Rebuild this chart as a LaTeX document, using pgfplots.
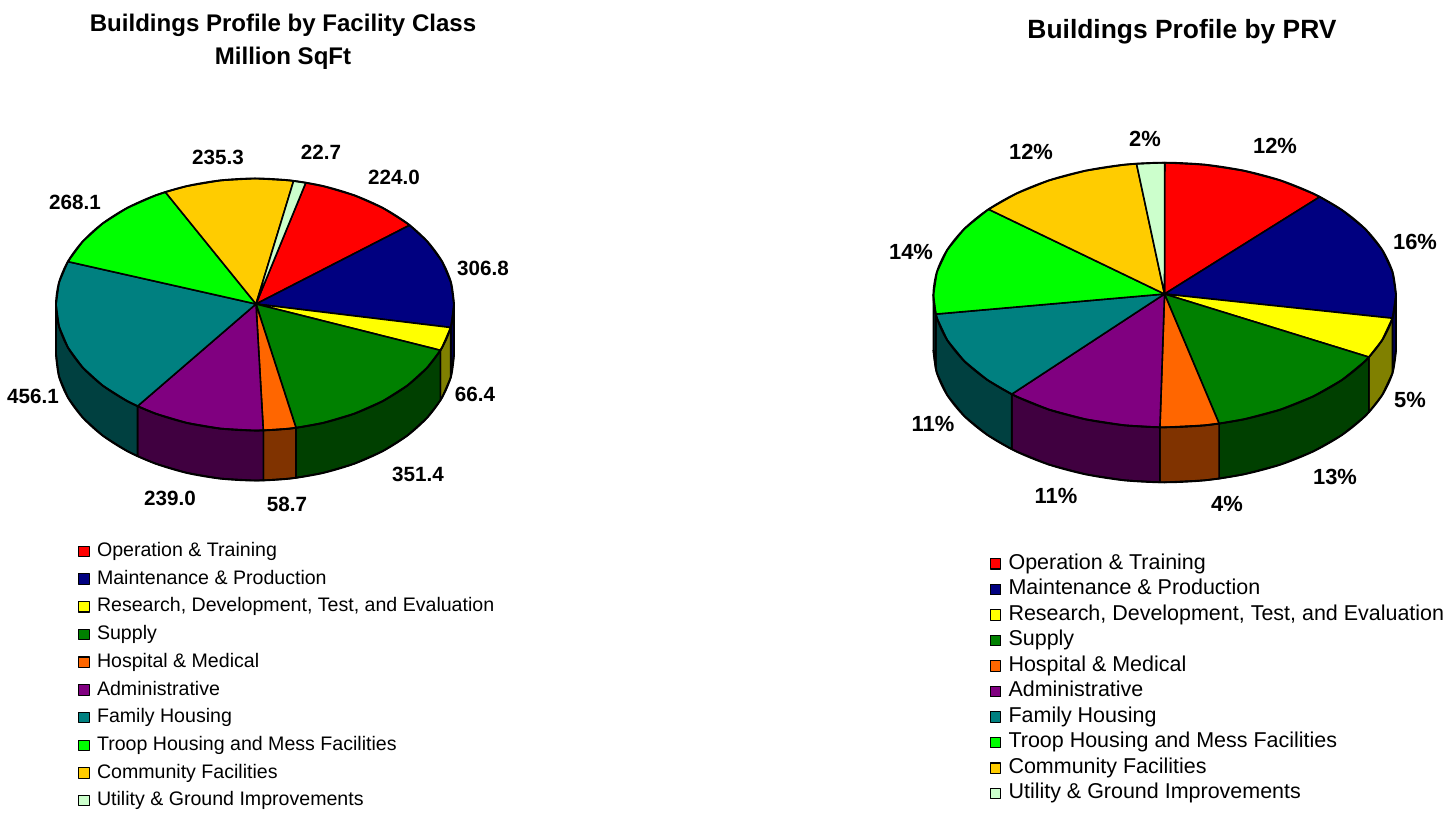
\documentclass[border=0pt]{standalone}
\usepackage{fontspec}
\setmainfont{Liberation Sans}
\usepackage{pgfplots}
\pgfplotsset{compat=1.18}
\definecolor{cRed}{HTML}{FF0000}
\definecolor{cNavy}{HTML}{000080}
\definecolor{cYel}{HTML}{FFFF00}
\definecolor{cGrn}{HTML}{008000}
\definecolor{cOrg}{HTML}{FF6600}
\definecolor{cPur}{HTML}{800080}
\definecolor{cTeal}{HTML}{008080}
\definecolor{cLime}{HTML}{00FF00}
\definecolor{cGold}{HTML}{FFCC00}
\definecolor{cMint}{HTML}{CCFFCC}
\definecolor{dNavy}{HTML}{000050}
\definecolor{dYel}{HTML}{808000}
\definecolor{dGrn}{HTML}{004000}
\definecolor{dOrg}{HTML}{803300}
\definecolor{dPur}{HTML}{400040}
\definecolor{dTeal}{HTML}{004040}
\definecolor{dLime}{HTML}{002020}
\pgfplotsset{
  pieaxis/.style={
    width=725bp,height=808bp,scale only axis,hide axis,clip=false,
    ymin=0,ymax=808,y dir=reverse,
    legend cell align=left,
    legend image code/.code={\path[draw=none,fill=none] (0bp,0bp) -- (18.5bp,0bp);\draw[##1,draw=black,line width=1.1pt] (0bp,-5.2bp) rectangle (10.5bp,5.2bp);},
  },
  slice/.style={draw=black,line width=1.6pt,line join=round,fill=#1,mark=none},
  wall/.style={draw=black,line width=1.6pt,line join=round,fill=#1,mark=none,forget plot},
  rim/.style={draw=black,line width=1.9pt,smooth,mark=none,forget plot},
}
\newcommand{\lab}[3]{\node[font=\fontsize{20.7}{22}\selectfont\bfseries,anchor=center] at (axis cs:#1,#2) {#3};}
\newcommand{\labb}[3]{\node[font=\fontsize{22}{24}\selectfont\bfseries,anchor=center] at (axis cs:#1,#2) {#3};}
\begin{document}
\begin{tikzpicture}
\begin{axis}[pieaxis,name=L,xmin=0,xmax=725,
  legend style={at={(axis cs:78,537.5)},anchor=north west,draw=none,fill=none,inner sep=0pt,outer sep=0pt,row sep=0pt,
    nodes={inner sep=0pt,text height=19bp,text depth=8.7bp,font=\fontsize{19.65}{20}\selectfont}},
]
\path (axis cs:0,0) -- (axis cs:725,808);
% side walls
\addplot[wall=dNavy] coordinates {(454,304.5)(451,326.4)(450.7,327.5)(450.7,377.5)(451,376.4)(454,354.5)} --cycle;
\addplot[wall=dYel] coordinates {(450.7,327.5)(442,347.6)(440.4,350.3)(440.4,400.3)(442,397.6)(450.7,377.5)} --cycle;
\addplot[wall=dGrn] coordinates {(440.4,350.3)(427.3,367.5)(407.4,385.5)(382.9,401)(354.5,413.6)(323.1,422.9)(296,427.8)(296,477.8)(323.1,472.9)(354.5,463.6)(382.9,451)(407.4,435.5)(427.3,417.5)(440.4,400.3)} --cycle;
\addplot[wall=dOrg] coordinates {(296,427.8)(289.5,428.6)(263.3,430.4)(263.3,480.4)(289.5,478.6)(296,477.8)} --cycle;
\addplot[wall=dPur] coordinates {(263.3,430.4)(255,430.5)(220.5,428.6)(186.9,422.9)(155.5,413.6)(137.5,406.2)(137.5,456.2)(155.5,463.6)(186.9,472.9)(220.5,478.6)(255,480.5)(263.3,480.4)} --cycle;
\addplot[wall=dTeal] coordinates {(137.5,406.2)(127.1,401)(102.6,385.5)(82.7,367.5)(68,347.6)(59,326.4)(56,304.5)(56,354.5)(59,376.4)(68,397.6)(82.7,417.5)(102.6,435.5)(127.1,451)(137.5,456.2)} --cycle;
% top
\addplot[slice=cRed] coordinates {(256,304)(305.8,182.7)(323.1,186.1)(354.5,195.4)(382.9,208)(407.4,223.5)(409.6,225.2)} --cycle;
\addplot[slice=cNavy] coordinates {(256,304)(409.6,225.2)(427.3,241.5)(442,261.4)(451,282.6)(454,304.5)(451,326.4)(450.7,327.5)} --cycle;
\addplot[slice=cYel] coordinates {(256,304)(450.7,327.5)(442,347.6)(440.4,350.3)} --cycle;
\addplot[slice=cGrn] coordinates {(256,304)(440.4,350.3)(427.3,367.5)(407.4,385.5)(382.9,401)(354.5,413.6)(323.1,422.9)(296,427.8)} --cycle;
\addplot[slice=cOrg] coordinates {(256,304)(296,427.8)(289.5,428.6)(263.3,430.4)} --cycle;
\addplot[slice=cPur] coordinates {(256,304)(263.3,430.4)(255,430.5)(220.5,428.6)(186.9,422.9)(155.5,413.6)(137.5,406.2)} --cycle;
\addplot[slice=cTeal] coordinates {(256,304)(137.5,406.2)(127.1,401)(102.6,385.5)(82.7,367.5)(68,347.6)(59,326.4)(56,304.5)(59,282.6)(67.9,261.6)} --cycle;
\addplot[slice=cLime] coordinates {(256,304)(67.9,261.6)(82.7,241.5)(102.6,223.5)(127.1,208)(155.5,195.4)(165.3,192)} --cycle;
\addplot[slice=cGold] coordinates {(256,304)(165.3,192)(186.9,186.1)(220.5,180.4)(255,178.5)(289.5,180.4)(293.6,180.9)} --cycle;
\addplot[slice=cMint] coordinates {(256,304)(293.6,180.9)(305.8,182.7)} --cycle;
% smooth outlines of the rims
\addplot[rim] coordinates {(454,304.5)(451,282.6)(442,261.4)(427.3,241.5)(407.4,223.5)(382.9,208)(354.5,195.4)(323.1,186.1)(289.5,180.4)(255,178.5)(220.5,180.4)(186.9,186.1)(155.5,195.4)(127.1,208)(102.6,223.5)(82.7,241.5)(68,261.4)(59,282.6)(56,304.5)(59,326.4)(68,347.6)(82.7,367.5)(102.6,385.5)(127.1,401)(155.5,413.6)(186.9,422.9)(220.5,428.6)(255,430.5)(289.5,428.6)(323.1,422.9)(354.5,413.6)(382.9,401)(407.4,385.5)(427.3,367.5)(442,347.6)(451,326.4)(454,304.5)};
\addplot[rim] coordinates {(454,354.5)(451,376.4)(442,397.6)(427.3,417.5)(407.4,435.5)(382.9,451)(354.5,463.6)(323.1,472.9)(289.5,478.6)(255,480.5)(220.5,478.6)(186.9,472.9)(155.5,463.6)(127.1,451)(102.6,435.5)(82.7,417.5)(68,397.6)(59,376.4)(56,354.5)};
\legend{Operation \& Training,Maintenance \& Production,{Research, Development, Test, and Evaluation},Supply,Hospital \& Medical,Administrative,Family Housing,Troop Housing and Mess Facilities,Community Facilities,Utility \& Ground Improvements}
\lab{218}{157}{235.3}\lab{321}{152}{22.7}\lab{394}{177}{224.0}\lab{483}{268}{306.8}\lab{475}{394}{66.4}
\lab{418}{474}{351.4}\lab{287}{504}{58.7}\lab{170}{498}{239.0}\lab{33}{396}{456.1}\lab{75}{202}{268.1}
\node[font=\fontsize{24.15}{33.5}\selectfont\bfseries,align=center,anchor=center] at (axis cs:283,42) {Buildings Profile by Facility Class\\Million SqFt};
\end{axis}
\begin{axis}[pieaxis,xshift=725bp,xmin=725,xmax=1450,
  legend style={at={(axis cs:989.5,551)},anchor=north west,draw=none,fill=none,inner sep=0pt,outer sep=0pt,row sep=0pt,
    nodes={inner sep=0pt,text height=18bp,text depth=7.55bp,font=\fontsize{21.55}{22}\selectfont}},
]
\path (axis cs:725,0) -- (axis cs:1450,808);
\addplot[wall=dNavy] coordinates {(1396,295)(1392.5,318)(1392.4,318.2)(1392.4,373.2)(1392.5,373)(1396,350)} --cycle;
\addplot[wall=dYel] coordinates {(1392.4,318.2)(1382.1,340.2)(1368.9,357.1)(1368.9,412.1)(1382.1,395.2)(1392.4,373.2)} --cycle;
\addplot[wall=dGrn] coordinates {(1368.9,357.1)(1365,361.2)(1341.9,380)(1313.4,396.3)(1280.4,409.6)(1243.8,419.3)(1219.1,423.6)(1219.1,478.6)(1243.8,474.3)(1280.4,464.6)(1313.4,451.3)(1341.9,435)(1365,416.2)(1368.9,412.1)} --cycle;
\addplot[wall=dOrg] coordinates {(1219.1,423.6)(1204.9,425.3)(1164.7,427.3)(1159.9,427.3)(1159.9,482.3)(1164.7,482.3)(1204.9,480.3)(1219.1,478.6)} --cycle;
\addplot[wall=dPur] coordinates {(1159.9,427.3)(1124.5,425.3)(1085.6,419.3)(1049,409.6)(1016,396.3)(1011.7,394.2)(1011.7,449.2)(1016,451.3)(1049,464.6)(1085.6,474.3)(1124.5,480.3)(1159.9,482.3)} --cycle;
\addplot[wall=dTeal] coordinates {(1011.7,394.2)(987.5,380)(964.4,361.2)(947.3,340.2)(936.9,318)(935.8,314.1)(935.8,369.1)(936.9,373)(947.3,395.2)(964.4,416.2)(987.5,435)(1011.7,449.2)} --cycle;
\addplot[wall=dLime] coordinates {(935.8,314.1)(933.4,295)(933.4,350)(935.8,369.1)} --cycle;
\addplot[slice=cRed] coordinates {(1164.5,294)(1164.7,162.7)(1204.9,164.7)(1243.8,170.7)(1280.4,180.4)(1313.4,193.7)(1319.8,196.8)} --cycle;
\addplot[slice=cNavy] coordinates {(1164.5,294)(1319.8,196.8)(1341.9,210)(1365,228.8)(1382.1,249.8)(1392.5,272)(1396,295)(1392.5,318)(1392.4,318.2)} --cycle;
\addplot[slice=cYel] coordinates {(1164.5,294)(1392.4,318.2)(1382.1,340.2)(1368.9,357.1)} --cycle;
\addplot[slice=cGrn] coordinates {(1164.5,294)(1368.9,357.1)(1365,361.2)(1341.9,380)(1313.4,396.3)(1280.4,409.6)(1243.8,419.3)(1219.1,423.6)} --cycle;
\addplot[slice=cOrg] coordinates {(1164.5,294)(1219.1,423.6)(1204.9,425.3)(1164.7,427.3)(1159.9,427.3)} --cycle;
\addplot[slice=cPur] coordinates {(1164.5,294)(1159.9,427.3)(1124.5,425.3)(1085.6,419.3)(1049,409.6)(1016,396.3)(1011.7,394.2)} --cycle;
\addplot[slice=cTeal] coordinates {(1164.5,294)(1011.7,394.2)(987.5,380)(964.4,361.2)(947.3,340.2)(936.9,318)(935.8,314.1)} --cycle;
\addplot[slice=cLime] coordinates {(1164.5,294)(935.8,314.1)(933.4,295)(936.9,272)(947.3,249.8)(964.4,228.8)(987.5,210)(988.6,209.3)} --cycle;
\addplot[slice=cGold] coordinates {(1164.5,294)(988.6,209.3)(1016,193.7)(1049,180.4)(1085.6,170.7)(1124.5,164.7)(1136.5,163.7)} --cycle;
\addplot[slice=cMint] coordinates {(1164.5,294)(1136.5,163.7)(1164.7,162.7)} --cycle;
\addplot[rim] coordinates {(1396,295)(1392.5,272)(1382.1,249.8)(1365,228.8)(1341.9,210)(1313.4,193.7)(1280.4,180.4)(1243.8,170.7)(1204.9,164.7)(1164.7,162.7)(1124.5,164.7)(1085.6,170.7)(1049,180.4)(1016,193.7)(987.5,210)(964.4,228.8)(947.3,249.8)(936.9,272)(933.4,295)(936.9,318)(947.3,340.2)(964.4,361.2)(987.5,380)(1016,396.3)(1049,409.6)(1085.6,419.3)(1124.5,425.3)(1164.7,427.3)(1204.9,425.3)(1243.8,419.3)(1280.4,409.6)(1313.4,396.3)(1341.9,380)(1365,361.2)(1382.1,340.2)(1392.5,318)(1396,295)};
\addplot[rim] coordinates {(1396,350)(1392.5,373)(1382.1,395.2)(1365,416.2)(1341.9,435)(1313.4,451.3)(1280.4,464.6)(1243.8,474.3)(1204.9,480.3)(1164.7,482.3)(1124.5,480.3)(1085.6,474.3)(1049,464.6)(1016,451.3)(987.5,435)(964.4,416.2)(947.3,395.2)(936.9,373)(933.4,350)};
\legend{Operation \& Training,Maintenance \& Production,{Research, Development, Test, and Evaluation},Supply,Hospital \& Medical,Administrative,Family Housing,Troop Housing and Mess Facilities,Community Facilities,Utility \& Ground Improvements}
\labb{1275}{146}{12\%}\labb{1145}{139}{2\%}\labb{1031}{152}{12\%}\labb{911}{252}{14\%}\labb{933}{424}{11\%}
\labb{1056}{496}{11\%}\labb{1227}{504}{4\%}\labb{1335}{477}{13\%}\labb{1410}{400}{5\%}\labb{1415}{242}{16\%}
\node[font=\fontsize{26.5}{33}\selectfont\bfseries,anchor=center] at (axis cs:1182,32) {Buildings Profile by PRV};
\end{axis}
\end{tikzpicture}
\end{document}
